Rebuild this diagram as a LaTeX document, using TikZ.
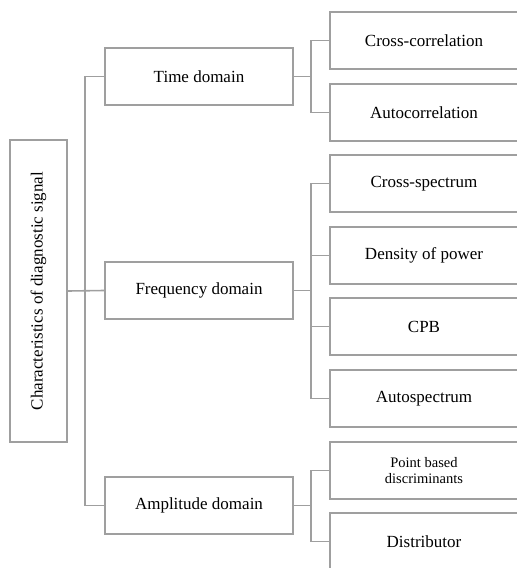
\documentclass[tikz,border=0pt]{standalone}
\usepackage{fontspec}
\setmainfont{Liberation Serif}
\begin{document}
\begin{tikzpicture}[x=1pt,y=-1pt,
  line width=1.6pt,
  conn/.style={draw=gray!75},
  box/.style={draw=gray!75, fill=white, rectangle, inner sep=0pt,
    minimum height=57pt, align=center, font=\fontsize{17}{19}\selectfont},
  rootbox/.style={box, minimum width=302pt, minimum height=57pt, rotate=90},
  lone/.style={box, minimum width=188pt},
  ltwo/.style={box, minimum width=188pt},
  small/.style={font=\fontsize{14.5}{16}\selectfont}]
\useasboundingbox (0,0) rectangle (517,568);
\node[rootbox] (root) at (38.5,291) {Characteristics of diagnostic signal};
\node[lone] (time) at (199,76.5) {Time domain};
\node[lone] (freq) at (199,290.5) {Frequency domain};
\node[lone] (amp) at (199,505.5) {Amplitude domain};

\node[ltwo] (cc) at (424,40.5) {Cross-correlation};
\node[ltwo] (ac) at (424,112.5) {Autocorrelation};
\node[ltwo] (cs) at (424,183.5) {Cross-spectrum};
\node[ltwo] (dp) at (424,255.5) {Density of power};
\node[ltwo] (cpb) at (424,326.5) {CPB};
\node[ltwo] (as) at (424,398.5) {Autospectrum};
\node[ltwo,small] (pb) at (424,470.5) {Point based\\discriminants};
\node[ltwo] (dist) at (424,541.5) {Distributor};

% trunk
\draw[conn] (root.south) -- (freq.west);
\draw[conn] (time.west) -- ++(-19,0) |- (amp.west);
% time
\draw[conn] (time.east) -- ++(18.5,0);
\draw[conn] (cc.west) -- ++(-18.5,0) |- (ac.west);
% freq
\draw[conn] (freq.east) -- ++(18.5,0);
\draw[conn] (cs.west) -- ++(-18.5,0) |- (as.west);
\draw[conn] (dp.west) -- ++(-18.5,0);
\draw[conn] (cpb.west) -- ++(-18.5,0);
% amp
\draw[conn] (amp.east) -- ++(18.5,0);
\draw[conn] (pb.west) -- ++(-18.5,0) |- (dist.west);
\end{tikzpicture}
\end{document}
